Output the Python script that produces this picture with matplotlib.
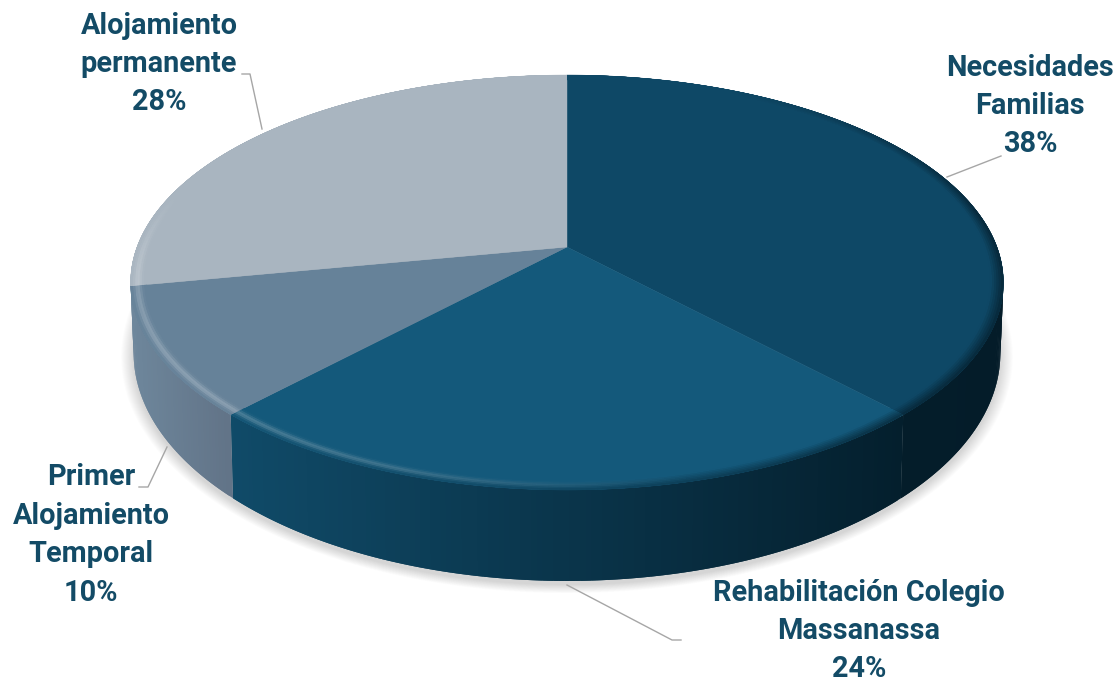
#!/usr/bin/env python

import numpy as np
import matplotlib
matplotlib.use('Agg')
import matplotlib.pyplot as plt
from matplotlib.collections import PolyCollection
from matplotlib.colors import to_rgb

labels = ['Necesidades\nFamilias', 'Rehabilitación Colegio\nMassanassa',
          'Primer\nAlojamiento\nTemporal', 'Alojamiento\npermanente']
values = [38, 24, 10, 28]
top_colors = ['#0E4866', '#14597B', '#668299', '#A9B5C0']
wall_left = ['#05212F', '#104B69', '#6E879C', '#6E879C']
wall_right = ['#041C29', '#041F2D', '#627488', '#6E879C']
label_pos = [(1030, 106), (859, 631), (91, 535), (159, 64)]
leaders = [([947, 1001], [177, 156]),
           ([567, 672, 681], [585, 640, 640]),
           ([167, 148, 139], [447, 487, 487]),
           ([262, 250, 242], [129, 74, 74])]

TEXT_COLOR = '#134B66'
PERSP = 0.171


def project(theta, r=1.0, level='top'):
    # pie circle -> picture, theta clockwise from 12 o'clock
    u = r * np.sin(theta)
    v = r * np.cos(theta)
    d = 1 + PERSP * v
    if level == 'top':
        return 567 + 430 * u / d, 247 - 201.4 * v / d
    return 567 + 427 * u / d, 314 - 221.3 * v / d


def blend(c, other, a):
    c = np.array(to_rgb(c))
    return tuple(c + (np.array(other) - c) * a)


fig = plt.figure(figsize=(11.16, 6.85), dpi=100)
ax = fig.add_axes([0, 0, 1, 1])
ax.set_xlim(0, 1116)
ax.set_ylim(685, 0)
ax.axis('off')

edges = np.cumsum([0] + values) / sum(values) * 2 * np.pi

# soft shadow under the pie
t = np.linspace(0, 2 * np.pi, 300)
sx, sy = project(t, level='bottom')
for s in np.linspace(0.036, 0.0, 14):
    ax.fill(567 + (sx - 567) * (1 + s * 0.8), 353 + (sy - 353) * (1 + s) + 4,
            color='black', alpha=0.012, lw=0, zorder=1)

# side wall, each strip runs under the next one so no seams show
for i in range(len(values)):
    t = np.linspace(edges[i], edges[i + 1], max(values[i] * 6, 12))
    tx, ty = project(t)
    bx, by = project(t, level='bottom')
    quads = []
    cols = []
    x0, x1 = tx.min(), tx.max()
    for j in range(len(t) - 1):
        e = min(j + 2, len(t) - 1)
        quads.append([(tx[j], ty[j]), (tx[e], ty[e]), (bx[e], by[e]), (bx[j], by[j])])
        a = (tx[j] - x0) / (x1 - x0)
        cols.append(blend(wall_left[i], to_rgb(wall_right[i]), a))
    # back strips first
    order = np.argsort(-np.cos(t[:-1]))
    ax.add_collection(PolyCollection([quads[k] for k in order], facecolors=[cols[k] for k in order],
                                     linewidths=0, zorder=2))

# top face
for i in range(len(values)):
    t = np.linspace(edges[i], edges[i + 1], 200)
    tx, ty = project(t)
    ax.fill(np.r_[567, tx], np.r_[247, ty], color=top_colors[i], lw=0.3, zorder=3)

# bevel round the rim: light on the front left, dark on the right
rings = np.linspace(0.965, 1.0, 8)
for i in range(len(values)):
    t = np.linspace(edges[i], edges[i + 1], max(values[i] * 6, 12))
    quads = []
    cols = []
    for n in range(len(rings) - 1):
        r0, r1 = rings[n], rings[min(n + 2, len(rings) - 1)]
        mid = (rings[n] + rings[n + 1]) / 2
        light = np.exp(-((mid - 0.984) / 0.008) ** 2)
        dark = np.clip((mid - 0.972) / 0.028, 0, 1)
        x0, y0 = project(t, r0)
        x1, y1 = project(t, r1)
        for j in range(len(t) - 1):
            e = min(j + 2, len(t) - 1)
            deg = np.degrees(t[j]) % 360
            h = np.interp(deg, [165, 200, 230, 262, 285], [0, 0.2, 0.25, 0.2, 0])
            k = np.interp(deg, [25, 80, 140, 190, 240], [0, 0.75, 0.7, 0.25, 0])
            c = blend(top_colors[i], (1, 1, 1), h * light)
            c = blend(c, to_rgb(wall_right[i]), k * dark)
            quads.append([(x0[j], y0[j]), (x0[e], y0[e]), (x1[e], y1[e]), (x1[j], y1[j])])
            cols.append(c)
    ax.add_collection(PolyCollection(quads, facecolors=cols, linewidths=0, zorder=4))

for xs, ys in leaders:
    ax.plot(xs, ys, color='#A6A6A6', lw=1, zorder=5)

for lab, val, pos in zip(labels, values, label_pos):
    ax.text(pos[0], pos[1], '{}\n{}%'.format(lab, val), ha='center', va='center', family='Roboto',
            weight='bold', fontsize=20.8, color=TEXT_COLOR, linespacing=1.47, zorder=6)

fig.savefig('out.png', dpi=100)
